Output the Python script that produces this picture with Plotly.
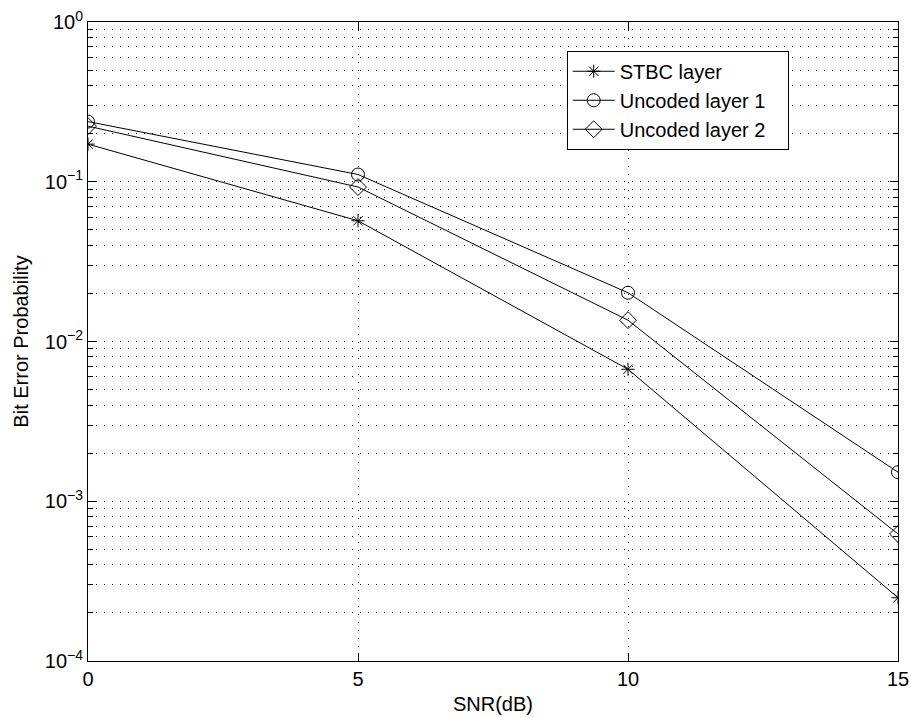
import plotly.graph_objects as go

snr = [0, 5, 10, 15]
stbc = [0.172, 0.057, 0.0067, 2.49e-4]
unc1 = [0.238, 0.111, 0.0202, 1.52e-3]
unc2 = [0.223, 0.0927, 0.0136, 6.24e-4]

names = ["STBC layer", "Uncoded layer 1", "Uncoded layer 2"]
symbols = ["asterisk-open", "circle-open", "diamond-open"]
sizes = [11, 13, 13]
series = [stbc, unc1, unc2]

y_major = [1e-4, 1e-3, 1e-2, 1e-1, 1e0]
y_major_text = ["10<sup>−4</sup>", "10<sup>−3</sup>", "10<sup>−2</sup>", "10<sup>−1</sup>", "10<sup>0</sup>"]
y_minor = [m * 10.0 ** e for e in range(-4, 0) for m in range(2, 10)]
x_ticks = [0, 5, 10, 15]

fig = go.Figure()
for n, s, sym, sz in zip(names, series, symbols, sizes):
    fig.add_trace(go.Scatter(
        x=snr, y=s, name=n + "\u00a0\u00a0\u00a0", mode="lines+markers",
        line=dict(color="black", width=1),
        marker=dict(symbol=sym, size=sz, color="black", line=dict(color="black", width=1)),
    ))

font = "Liberation Sans, Arial, sans-serif"
fig.update_layout(
    width=911, height=718,
    paper_bgcolor="white", plot_bgcolor="white",
    margin=dict(l=88, r=13, t=22, b=57, autoexpand=False),
    font=dict(family=font, size=20, color="black"),
    showlegend=True,
    legend=dict(
        x=0.591, y=0.955, xanchor="left", yanchor="top",
        bgcolor="white", bordercolor="black", borderwidth=1,
        font=dict(size=20), itemwidth=42, tracegroupgap=0,
    ),
    xaxis=dict(
        range=[0, 15], tickvals=x_ticks, ticks="inside", ticklen=8,
        tickcolor="black", showline=True, linecolor="black", linewidth=1,
        mirror="ticks", showgrid=True, gridcolor="black", gridwidth=1,
        griddash="1px,7px", zeroline=False, automargin=False,
        title=dict(text="SNR(dB)", standoff=7, font=dict(size=20)),
        tickfont=dict(size=20),
    ),
    yaxis=dict(
        type="log", range=[-4, 0], tickvals=y_major, ticktext=y_major_text,
        ticks="inside", ticklen=8, tickcolor="black",
        showline=True, linecolor="black", linewidth=1, mirror="ticks",
        showgrid=True, gridcolor="black", gridwidth=1, griddash="1px,7px",
        zeroline=False, automargin=False,
        minor=dict(tickvals=y_minor, ticks="inside", ticklen=5, tickcolor="black",
                   showgrid=True, gridcolor="black", gridwidth=1, griddash="1px,7px"),
        title=dict(text="Bit Error Probability", standoff=10, font=dict(size=20)),
        tickfont=dict(size=20),
    ),
)

fig.write_html("out.html", config={"displayModeBar": False},
               post_script="document.body.style.margin='0';")
